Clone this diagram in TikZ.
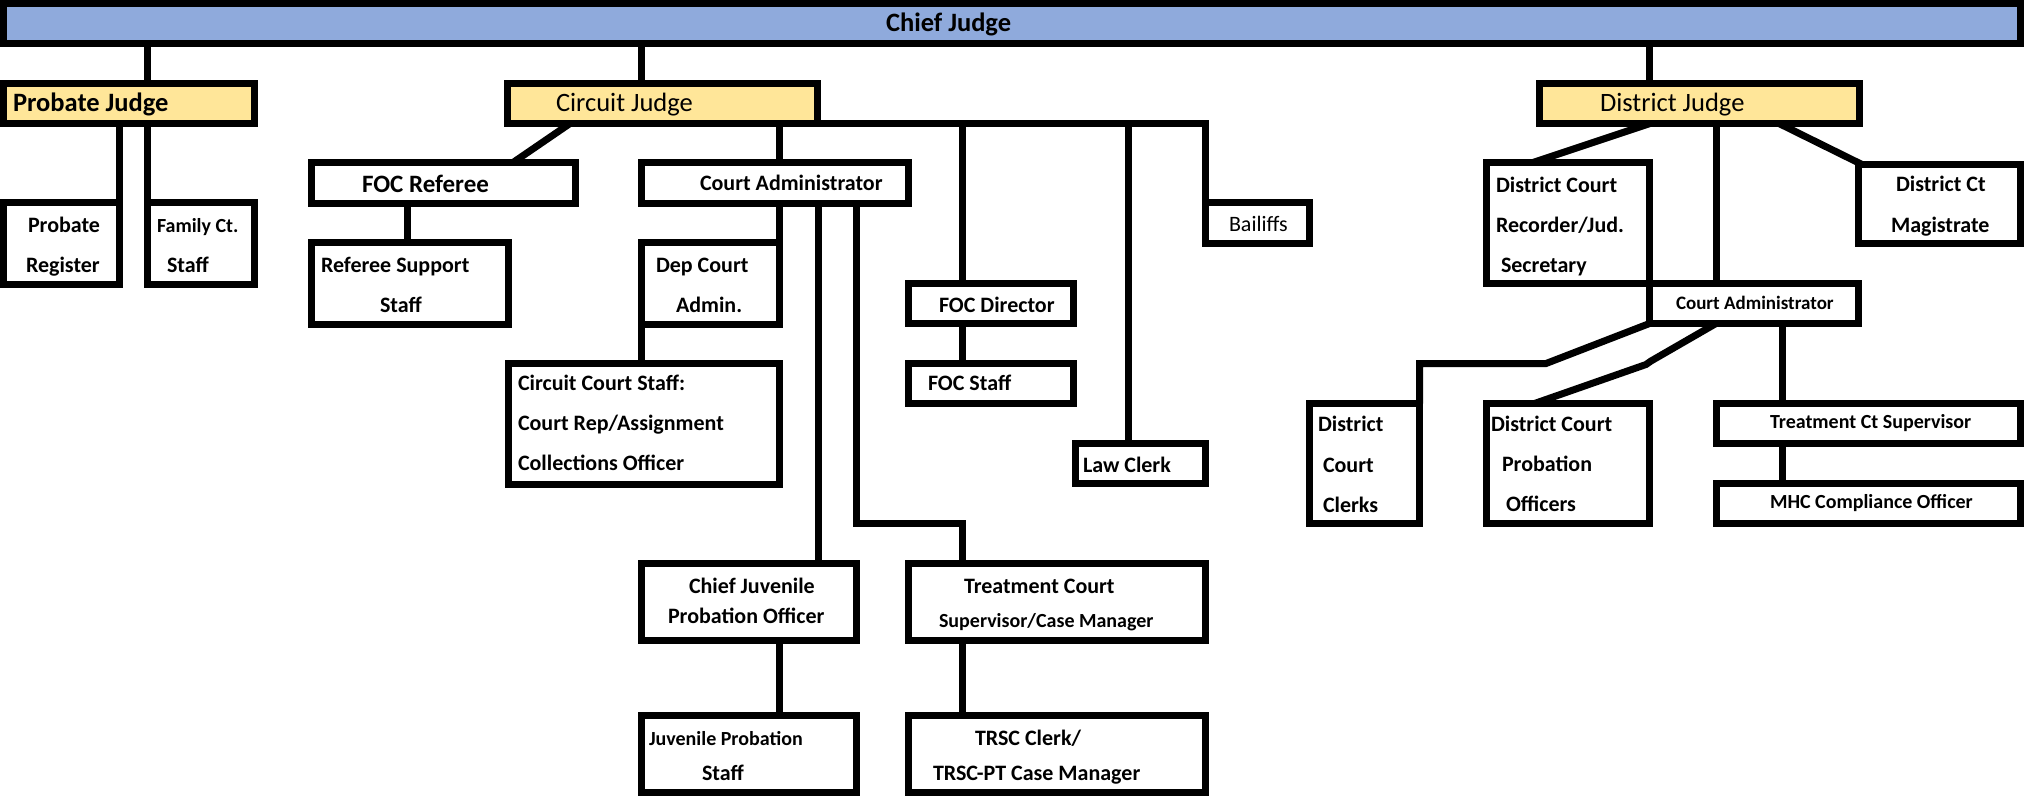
\documentclass[tikz,border=0pt]{standalone}
\usepackage{fontspec}
\setmainfont{Carlito}
\usetikzlibrary{backgrounds}
\definecolor{chiefblue}{HTML}{8FAADC}
\definecolor{judgegold}{HTML}{FFE699}
\newcommand\OrgBox[6][box]{\node[#1, minimum width={(#5-#3-7)*1pt}, minimum height={(#6-#4-7)*1pt}] (#2) at ({(#3+#5)/2},{(#4+#6)/2}) {};}
\tikzset{
 box/.style={draw=black, line width=7pt, inner sep=0pt, outer sep=0pt, fill=white},
 chiefbox/.style={box, fill=chiefblue},
 judgebox/.style={box, fill=judgegold},
 conn/.style={draw=black, line width=7pt},
 lbl/.style={anchor=base west, inner sep=0pt, outer sep=0pt},
 bA/.style={lbl, font=\bfseries\fontsize{22}{26}\selectfont},
 bS/.style={lbl, font=\bfseries\fontsize{20}{24}\selectfont},
 bT/.style={lbl, font=\bfseries\fontsize{19}{23}\selectfont},
 bF/.style={lbl, font=\bfseries\fontsize{25}{29}\selectfont},
 bH/.style={lbl, font=\bfseries\fontsize{26.5}{30}\selectfont},
 rH/.style={lbl, font=\fontsize{26.5}{30}\selectfont},
 rA/.style={lbl, font=\fontsize{22}{26}\selectfont},
}
\begin{document}
\begin{tikzpicture}[x=1pt,y=-1pt]
\useasboundingbox (0,0) rectangle (2024,796);
% boxes: name, left, top, right, bottom (outer edges)
\OrgBox[chiefbox]{chief}{0}{0}{2024}{47}
\OrgBox[judgebox]{pj}{0}{80}{258}{127}
\OrgBox[judgebox]{cjd}{504}{80}{821}{127}
\OrgBox[judgebox]{dj}{1536}{80}{1863}{127}
\OrgBox{preg}{0}{199}{123}{288}
\OrgBox{fam}{144}{199}{258}{288}
\OrgBox{focref}{308}{159}{579}{207}
\OrgBox{refsup}{308}{239}{512}{328}
\OrgBox{cadm}{638}{159}{912}{207}
\OrgBox{dep}{638}{239}{783}{328}
\OrgBox{ccs}{505}{360}{783}{488}
\OrgBox{focdir}{905}{280}{1077}{327}
\OrgBox{focstaff}{905}{360}{1077}{407}
\OrgBox{lawclerk}{1072}{440}{1209}{487}
\OrgBox{bailiffs}{1202}{199}{1313}{247}
\OrgBox{cjpo}{638}{560}{860}{644}
\OrgBox{jps}{638}{712}{860}{796}
\OrgBox{tcs}{905}{560}{1209}{644}
\OrgBox{trsc}{905}{712}{1209}{796}
\OrgBox{rec}{1483}{159}{1653}{287}
\OrgBox{mag}{1855}{161}{2024}{247}
\OrgBox{dadm}{1646}{280}{1862}{327}
\OrgBox{dcc}{1306}{400}{1423}{527}
\OrgBox{dpo}{1483}{400}{1653}{527}
\OrgBox{tsup}{1713}{400}{2024}{447}
\OrgBox{mhc}{1713}{480}{2024}{527}
% helper coordinates
\coordinate (xfoc) at (962,0);
\coordinate (xlaw) at (1128,0);
\coordinate (xref) at (407.5,0);
\coordinate (xcj) at (818,0);
\coordinate (jog) at (0,523.5);
\coordinate (xdadm) at (1716,0);
\coordinate (xts) at (1782,0);
\coordinate (kc) at (1546,363.5);
\coordinate (kp1) at (1651,361);
\coordinate (kp2) at (1646,364.5);
\begin{scope}[on background layer]
\draw[conn] (chief.south -| fam.west) -- (pj.north -| fam.west);
\draw[conn] (pj.south -| preg.east) -- (preg.north east);
\draw[conn] (pj.south -| fam.west) -- (fam.north west);
\draw[conn] (chief.south -| cadm.west) -- (cjd.north -| cadm.west);
\draw[conn] (chief.south -| rec.east) -- (dj.north -| rec.east);
\draw[conn] ([xshift=62.5pt]cjd.south west) -- ([xshift=201.5pt]focref.north west);
\draw[conn] (cjd.south east) -| (bailiffs.north west);
\draw[conn] (cjd.south -| dep.east) -- (cadm.north -| dep.east);
\draw[conn] (cjd.south -| xfoc) -- (focdir.north -| xfoc);
\draw[conn] (cjd.south -| xlaw) -- (lawclerk.north -| xlaw);
\draw[conn] (focref.south -| xref) -- (refsup.north -| xref);
\draw[conn] (cadm.south -| dep.east) -- (dep.north east);
\draw[conn] (dep.south west) -- (ccs.north -| dep.west);
\draw[conn] (cadm.south -| xcj) -- (cjpo.north -| xcj);
\draw[conn] (cadm.south -| cjpo.east) -- (cjpo.east |- jog) -- (jog -| xfoc) -- (tcs.north -| xfoc);
\draw[conn] (cjpo.south -| dep.east) -- (jps.north -| dep.east);
\draw[conn] (focdir.south -| xfoc) -- (focstaff.north -| xfoc);
\draw[conn] (tcs.south -| xfoc) -- (trsc.north -| xfoc);
\draw[conn] ([xshift=110.5pt]dj.south west) -- ([xshift=46.5pt]rec.north west);
\draw[conn] (dj.south -| xdadm) -- (dadm.north -| xdadm);
\draw[conn] ([xshift=239.5pt]dj.south west) -- ([xshift=3.5pt]mag.north west);
\draw[conn] (dadm.south west) -- (kc) -- (kc -| dcc.east) -- (dcc.north east);
\draw[conn] (dadm.south -| xdadm) -- (kp1) -- (kp2) -- ([xshift=48pt]dpo.north west);
\draw[conn] (dadm.south -| xts) -- (tsup.north -| xts);
\draw[conn] (tsup.south -| xts) -- (mhc.north -| xts);
\end{scope}
% texts
\node[bH] (t1) at (886,31.5) {Chief Judge};
\node[bH] (t2) at (13,111) {Probate Judge};
\node[rH] (t3) at (556,111) {Circuit Judge};
\node[rH] (t4) at (1600,111) {District Judge};
\node[bA] (t5) at (28,232) {Probate};
\node[bA] (t6) at (26,272) {Register};
\node[bS] (t7) at (157,232) {Family Ct.};
\node[bA] (t8) at (167,272) {Staff};
\node[bF] (t9) at (362,192) {FOC Referee};
\node[bA] (t10) at (321,272) {Referee Support};
\node[bA] (t11) at (380,312) {Staff};
\node[bA] (t12) at (700,190) {Court Administrator};
\node[bA] (t13) at (656,272) {Dep Court};
\node[bA] (t14) at (676,312) {Admin.};
\node[bA] (t15) at (518,390) {Circuit Court Staff:};
\node[bA] (t16) at (518,430) {Court Rep/Assignment};
\node[bA] (t17) at (518,470) {Collections Officer};
\node[bA] (t18) at (939,312) {FOC Director};
\node[bA] (t19) at (928,390) {FOC Staff};
\node[bA] (t20) at (1083,472) {Law Clerk};
\node[rA] (t21) at (1229,231) {Bailiffs};
\node[bA] (t22) at (689,593) {Chief Juvenile};
\node[bA] (t23) at (668,623) {Probation Officer};
\node[bS] (t24) at (649,745) {Juvenile Probation};
\node[bA] (t25) at (702,780) {Staff};
\node[bA] (t26) at (964,593) {Treatment Court};
\node[bS] (t27) at (939,627) {Supervisor/Case Manager};
\node[bA] (t28) at (975,745) {TRSC Clerk/};
\node[bA] (t29) at (933,780) {TRSC-PT Case Manager};
\node[bA] (t30) at (1496,192) {District Court};
\node[bA] (t31) at (1496,232) {Recorder/Jud.};
\node[bA] (t32) at (1501,272) {Secretary};
\node[bA] (t33) at (1896,191) {District Ct};
\node[bA] (t34) at (1891,232) {Magistrate};
\node[bT] (t35) at (1676,309) {Court Administrator};
\node[bA] (t36) at (1318,431) {District};
\node[bA] (t37) at (1323,472) {Court};
\node[bA] (t38) at (1323,512) {Clerks};
\node[bA] (t39) at (1491,431) {District Court};
\node[bA] (t40) at (1502,471) {Probation};
\node[bA] (t41) at (1506,511) {Officers};
\node[bS] (t42) at (1770,428) {Treatment Ct Supervisor};
\node[bS] (t43) at (1770,508) {MHC Compliance Officer};
\end{tikzpicture}
\end{document}
